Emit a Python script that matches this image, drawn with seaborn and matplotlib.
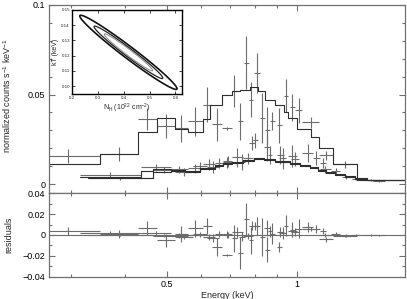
import numpy as np
import matplotlib
matplotlib.use("Agg")
import matplotlib.pyplot as plt
from matplotlib.ticker import FixedLocator, NullFormatter, MultipleLocator
import seaborn as sns

# --- pn spectrum (upper) ---
pn_lo = [0.25, 0.350, 0.4285, 0.474, 0.522, 0.560, 0.606, 0.636, 0.671, 0.707, 0.730, 0.754,
         0.774, 0.795, 0.821, 0.843, 0.866, 0.899, 0.933, 0.963, 0.990, 1.030, 1.124, 1.212]
pn_hi = [0.350, 0.4285, 0.474, 0.522, 0.560, 0.606, 0.636, 0.671, 0.707, 0.727, 0.750, 0.774,
         0.791, 0.821, 0.843, 0.866, 0.889, 0.923, 0.952, 0.990, 1.030, 1.124, 1.212, 1.377]
pn_flux = [0.0156, 0.0167, 0.0361, 0.0322, 0.0311, 0.0350, 0.0444, 0.0333, 0.0311, 0.0520, 0.0350, 0.0678,
           0.0472, 0.0620, 0.0370, 0.0300, 0.0350, 0.0328, 0.0494, 0.0428, 0.0411, 0.0344, 0.0161, 0.0111]
pn_err = [0.0039, 0.0039, 0.0061, 0.0067, 0.0075, 0.0083, 0.0097, 0.0094, 0.0010, 0.0090, 0.0103, 0.0147,
          0.0097, 0.0110, 0.0140, 0.0128, 0.0050, 0.0097, 0.0094, 0.0075, 0.0072, 0.0030, 0.0025, 0.0020]
pn_res = [0.0038, 0.0010, 0.0067, -0.0048, 0.0010, 0.0067, 0.0086, -0.0114, -0.0190, -0.0030, -0.0170, 0.0152,
          -0.0050, 0.0086, -0.0020, -0.0140, 0.0010, -0.0114, 0.0086, 0.0050, 0.0060, 0.0057, -0.0040, -0.0010]
pn_res_err = [0.0035, 0.0038, 0.0067, 0.0062, 0.0076, 0.0072, 0.0080, 0.0090, 0.0010, 0.0130, 0.0150, 0.0150,
              0.0130, 0.0090, 0.0180, 0.0120, 0.0100, 0.0050, 0.0100, 0.0070, 0.0090, 0.0020, 0.0025, 0.0010]
pn_edges = [0.25, 0.35, 0.4285, 0.474, 0.522, 0.560, 0.606, 0.629, 0.671, 0.707, 0.738, 0.778,
            0.812, 0.843, 0.889, 0.933, 0.952, 1.0, 1.078, 1.124, 1.212, 1.377, 1.85]
pn_model = [0.0111, 0.0167, 0.0289, 0.0367, 0.0310, 0.0289, 0.0361, 0.0444, 0.0500, 0.0517, 0.0528,
            0.0544, 0.0522, 0.0472, 0.0439, 0.0400, 0.0370, 0.0310, 0.0260, 0.0200, 0.0110, 0.0022]

# --- MOS1 spectrum ---
m1_lo = [0.3147, 0.4355, 0.5111, 0.560, 0.606, 0.646, 0.6745, 0.707, 0.750, 0.790, 0.838, 0.899,
         0.952, 1.030, 1.130, 1.270, 1.500]
m1_hi = [0.4355, 0.5111, 0.560, 0.606, 0.646, 0.6745, 0.707, 0.750, 0.790, 0.812, 0.866, 0.933,
         1.000, 1.089, 1.200, 1.330, 1.600]
m1_flux = [0.0050, 0.0094, 0.0083, 0.0089, 0.0110, 0.0117, 0.0122, 0.0150, 0.0144, 0.0244, 0.0206, 0.0161,
           0.0156, 0.0172, 0.0083, 0.0039, 0.0017]
m1_err = [0.0015, 0.0020, 0.0020, 0.0025, 0.0030, 0.0030, 0.0030, 0.0053, 0.0030, 0.0040, 0.0075, 0.0050,
          0.0060, 0.0050, 0.0020, 0.0010, 0.0007]
m1_res = [0.0019, 0.0015, -0.0005, 0.0004, -0.0020, 0.0010, 0.0005, 0.0025, -0.0010, 0.0086, 0.0065, 0.0030,
          0.0040, 0.0076, 0.0000, -0.0005, -0.0003]
m1_edges = [0.3147, 0.4355, 0.4642, 0.5111, 0.5506, 0.596, 0.6461, 0.6745, 0.707, 0.750, 0.7951, 0.8388,
            0.889, 0.963, 1.016, 1.072, 1.118, 1.167, 1.224, 1.292, 1.362, 1.453, 1.85]
m1_model = [0.0039, 0.0072, 0.0083, 0.0078, 0.0072, 0.0089, 0.0106, 0.0117, 0.0122, 0.0133, 0.0144,
            0.0139, 0.0128, 0.0117, 0.0106, 0.0094, 0.0078, 0.0067, 0.0056, 0.0044, 0.0033, 0.0022]

# --- MOS2 spectrum ---
m2_lo = [0.3283, 0.4642, 0.522, 0.575, 0.620, 0.676, 0.735, 0.776, 0.857, 0.910, 0.970, 1.090,
         1.130, 1.200, 1.340, 1.420]
m2_hi = [0.4642, 0.522, 0.575, 0.620, 0.660, 0.707, 0.760, 0.800, 0.876, 0.945, 1.010, 1.130,
         1.170, 1.260, 1.400, 1.550]
m2_flux = [0.0033, 0.0078, 0.0067, 0.0100, 0.0094, 0.0128, 0.0122, 0.0228, 0.0161, 0.0144, 0.0139, 0.0144,
           0.0117, 0.0072, 0.0028, 0.0022]
m2_err = [0.0008, 0.0015, 0.0020, 0.0025, 0.0035, 0.0030, 0.0045, 0.0040, 0.0050, 0.0060, 0.0040, 0.0040,
          0.0030, 0.0020, 0.0008, 0.0006]
m2_res = [-0.0003, -0.0005, -0.0020, 0.0005, -0.0030, 0.0000, -0.0015, 0.0090, 0.0035, 0.0020, 0.0030, 0.0055,
          0.0040, 0.0010, -0.0003, 0.0000]
m2_edges = [0.3283, 0.4642, 0.5111, 0.5506, 0.596, 0.6461, 0.6745, 0.707, 0.750, 0.7951, 0.8388, 0.889,
            0.963, 1.016, 1.072, 1.118, 1.167, 1.224, 1.292, 1.362, 1.453, 1.85]
m2_model = [0.0033, 0.0067, 0.0072, 0.0067, 0.0083, 0.0100, 0.0111, 0.0117, 0.0128, 0.0139, 0.0135,
            0.0124, 0.0112, 0.0100, 0.0089, 0.0072, 0.0061, 0.0050, 0.0039, 0.0030, 0.0020]

# --- confidence contours (NH, kT) ---
nh_best, kt_best = 0.418, 0.1222
nh_sig, kt_sig, rho = 0.062, 0.0080, -0.98
chi2_levels = [2.30, 4.61, 9.21]

sns.set_theme(style="ticks")
plt.rcParams["font.family"] = ["Liberation Sans", "DejaVu Sans"]
plt.rcParams["mathtext.default"] = "regular"

DATA_C = "#6c6c6c"
MODEL_C = "#2e2e2e"
FRAME_C = "#707070"

fig = plt.figure(figsize=(4.07, 2.99), dpi=100)
ax = fig.add_axes([0.1204, 0.3545, 0.8747, 0.6288])
ax2 = fig.add_axes([0.1204, 0.0736, 0.8747, 0.2809], sharex=ax)


def draw_data(a, lo, hi, y, yerr):
    lo, hi = np.array(lo), np.array(hi)
    xc = np.sqrt(lo * hi)
    a.errorbar(xc, y, xerr=[xc - lo, hi - xc], yerr=yerr, fmt="none",
               ecolor=DATA_C, elinewidth=0.8, capsize=0)


def draw_model(a, edges, vals):
    sns.lineplot(x=edges, y=list(vals) + [vals[-1]], drawstyle="steps-post",
                 color=MODEL_C, lw=0.8, ax=a, estimator=None, sort=False, legend=False)


for lo, hi, f, e in [(pn_lo, pn_hi, pn_flux, pn_err), (m1_lo, m1_hi, m1_flux, m1_err),
                     (m2_lo, m2_hi, m2_flux, m2_err)]:
    draw_data(ax, lo, hi, f, e)
for edges, vals in [(pn_edges, pn_model), (m1_edges, m1_model), (m2_edges, m2_model)]:
    draw_model(ax, edges, vals)

ax2.axhline(0, color=DATA_C, lw=0.8)
draw_data(ax2, pn_lo, pn_hi, pn_res, pn_res_err)
draw_data(ax2, m1_lo, m1_hi, m1_res, m1_err)
draw_data(ax2, m2_lo, m2_hi, m2_res, m2_err)

ax.set_xscale("log")
ax.set_xlim(0.267, 1.78)
ax.set_ylim(-0.005, 0.1)
ax2.set_ylim(-0.04, 0.04)

for a in (ax, ax2):
    for s in a.spines.values():
        s.set_color(FRAME_C)
        s.set_linewidth(0.9)
    a.tick_params(which="both", direction="in", top=True, right=True, colors=FRAME_C,
                  labelcolor="black", labelsize=6.5, width=0.8, pad=2.5)
    a.tick_params(which="major", length=4)
    a.tick_params(which="minor", length=2)
    a.xaxis.set_major_locator(FixedLocator([0.5, 1.0]))
    a.xaxis.set_minor_locator(FixedLocator([0.3, 0.4, 0.6, 0.7, 0.8, 0.9]))
    a.xaxis.set_minor_formatter(NullFormatter())
    a.set_xlabel("")
    a.set_ylabel("")

ax.yaxis.set_major_locator(FixedLocator([0, 0.05, 0.1]))
ax.set_yticklabels(["0", "0.05", "0.1"])
ax.yaxis.set_minor_locator(MultipleLocator(0.01))
ax.tick_params(axis="x", labelbottom=False)

ax2.yaxis.set_major_locator(FixedLocator([-0.04, -0.02, 0, 0.02, 0.04]))
ax2.set_yticklabels(["\u22120.04", "\u22120.02", "0", "0.02", "0.04"])
ax2.yaxis.set_minor_locator(MultipleLocator(0.01))
ax2.set_xticklabels(["0.5", "1"])

ax.set_ylabel("normalized counts s$^{-1}$ keV$^{-1}$", fontsize=6.5)
ax.yaxis.set_label_coords(-0.100, 0.52)
ax2.set_ylabel("residuals", fontsize=6.5)
ax2.yaxis.set_label_coords(-0.100, 0.5)
ax2.set_xlabel("Energy (keV)", fontsize=6.5, labelpad=1)

# inset with confidence contours
ins = fig.add_axes([0.177, 0.686, 0.270, 0.281])
nh = np.linspace(0.15, 0.7, 300)
kt = np.linspace(0.085, 0.16, 300)
NH, KT = np.meshgrid(nh, kt)
u = (NH - nh_best) / nh_sig
v = (KT - kt_best) / kt_sig
chi2 = (u ** 2 - 2 * rho * u * v + v ** 2) / (1 - rho ** 2)
ins.contour(NH, KT, chi2, levels=chi2_levels, colors=["#8a8a8a", "#222222", "#111111"],
            linewidths=[0.7, 0.9, 1.2])
ins.set_xlim(0.2, 0.625)
ins.set_ylim(0.095, 0.15)
ins.xaxis.set_major_locator(FixedLocator([0.2, 0.3, 0.4, 0.5, 0.6]))
ins.yaxis.set_major_locator(FixedLocator([0.10, 0.11, 0.12, 0.13, 0.14, 0.15]))
ins.set_xticklabels(["0.2", "0.3", "0.4", "0.5", "0.6"])
ins.set_yticklabels(["0.10", "0.11", "0.12", "0.13", "0.14", "0.15"])
ins.tick_params(direction="in", top=True, right=True, length=2, width=0.6, labelsize=3.2, pad=1.5)
for s in ins.spines.values():
    s.set_linewidth(1.0)
    s.set_color("black")
ins.set_xlabel("N$_H$ (10$^{22}$ cm$^{-2}$)", fontsize=5, labelpad=1.5)
ins.set_ylabel("kT (keV)", fontsize=5, labelpad=1.5)

fig.savefig("out.png", dpi=100)
